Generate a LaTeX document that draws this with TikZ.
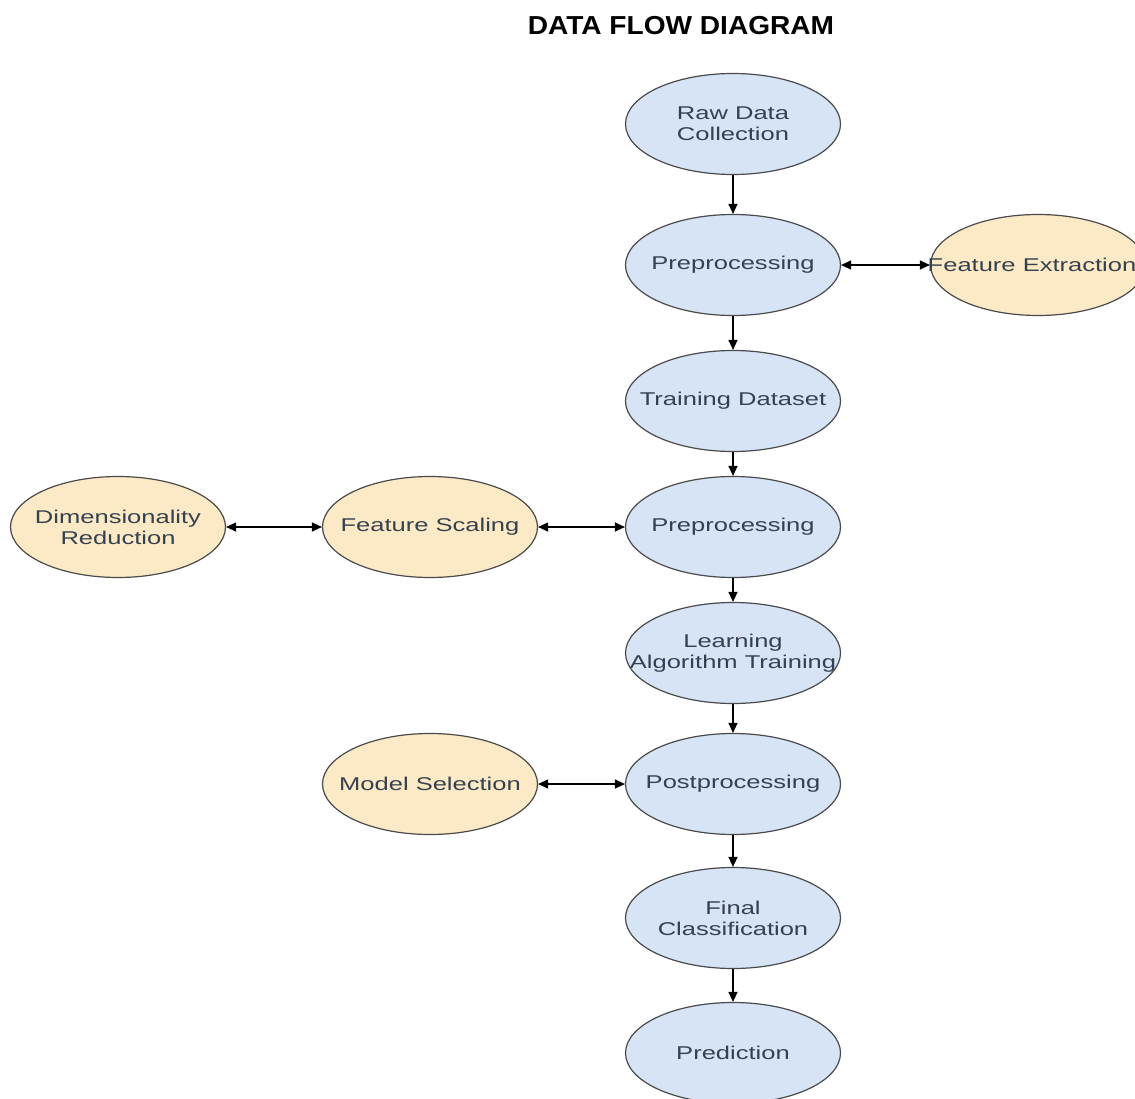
\documentclass[tikz,border=0pt]{standalone}
\usepackage{fontspec}
\usetikzlibrary{shapes.geometric,arrows.meta}
\newfontfamily\labfont[FakeStretch=1.38]{Liberation Sans}
\newfontfamily\titlefont[FakeStretch=1.08]{Liberation Sans}
\definecolor{bluefill}{HTML}{D6E4F6}
\definecolor{orangefill}{HTML}{FCEAC6}
\definecolor{edgecol}{HTML}{4A4A4A}
\definecolor{textcol}{HTML}{36414F}
\tikzset{
  blueell/.style={ellipse, draw=edgecol, line width=1.2pt, fill=bluefill, minimum width=215pt, minimum height=101pt, inner sep=0pt},
  orangeell/.style={ellipse, draw=edgecol, line width=1.2pt, fill=orangefill, minimum width=215pt, minimum height=101pt, inner sep=0pt},
  lab/.style={align=center, text=textcol, font=\labfont\fontsize{18.5}{21}\selectfont, inner sep=0pt},
  flow/.style={draw=black, line width=1.4pt, -{Triangle[length=10pt,width=9pt]}},
  biflow/.style={draw=black, line width=1.2pt, {Triangle[length=10pt,width=9pt]}-{Triangle[length=10pt,width=9pt]}}
}
\begin{document}
\begin{tikzpicture}[x=1pt,y=-1pt]
\useasboundingbox (0,0) rectangle (1135,1099);
\clip (0,0) rectangle (1135,1099);
\fill[white] (0,0) rectangle (1135,1099);

\node[font=\titlefont\bfseries\fontsize{26}{30}\selectfont, text=black] (title) at (681,26) {DATA FLOW DIAGRAM};

\node[blueell] (raw) at (733,124) {};
\node[lab] (rawt) at (raw) {Raw Data\\Collection};
\node[blueell] (pre1) at (733,265) {};
\node[lab] (pre1t) at (pre1) {Preprocessing};
\node[orangeell] (fext) at (1038,265) {};
\node[lab] (fextt) at (1032,265) {Feature Extraction};
\node[blueell] (train) at (733,401) {};
\node[lab] (traint) at (train) {Training Dataset};
\node[blueell] (pre2) at (733,527) {};
\node[lab] (pre2t) at (pre2) {Preprocessing};
\node[orangeell] (fscale) at (430,527) {};
\node[lab] (fscalet) at (fscale) {Feature Scaling};
\node[orangeell] (dimred) at (118,527) {};
\node[lab] (dimredt) at (dimred) {Dimensionality\\Reduction};
\node[blueell] (learn) at (733,653) {};
\node[lab] (learnt) at (learn) {Learning\\Algorithm Training};
\node[blueell] (post) at (733,784) {};
\node[lab] (postt) at (post) {Postprocessing};
\node[orangeell] (model) at (430,784) {};
\node[lab] (modelt) at (model) {Model Selection};
\node[blueell] (final) at (733,918) {};
\node[lab] (finalt) at (final) {Final\\Classification};
\node[blueell] (pred) at (733,1053) {};
\node[lab] (predt) at (pred) {Prediction};

\draw[flow] (raw.south) -- (pre1.north);
\draw[flow] (pre1.south) -- (train.north);
\draw[flow] (train.south) -- (pre2.north);
\draw[flow] (pre2.south) -- (learn.north);
\draw[flow] (learn.south) -- (post.north);
\draw[flow] (post.south) -- (final.north);
\draw[flow] (final.south) -- (pred.north);

\draw[biflow] (pre1.east) -- (fext.west);
\draw[biflow] (fscale.east) -- (pre2.west);
\draw[biflow] (dimred.east) -- (fscale.west);
\draw[biflow] (model.east) -- (post.west);
\end{tikzpicture}
\end{document}
